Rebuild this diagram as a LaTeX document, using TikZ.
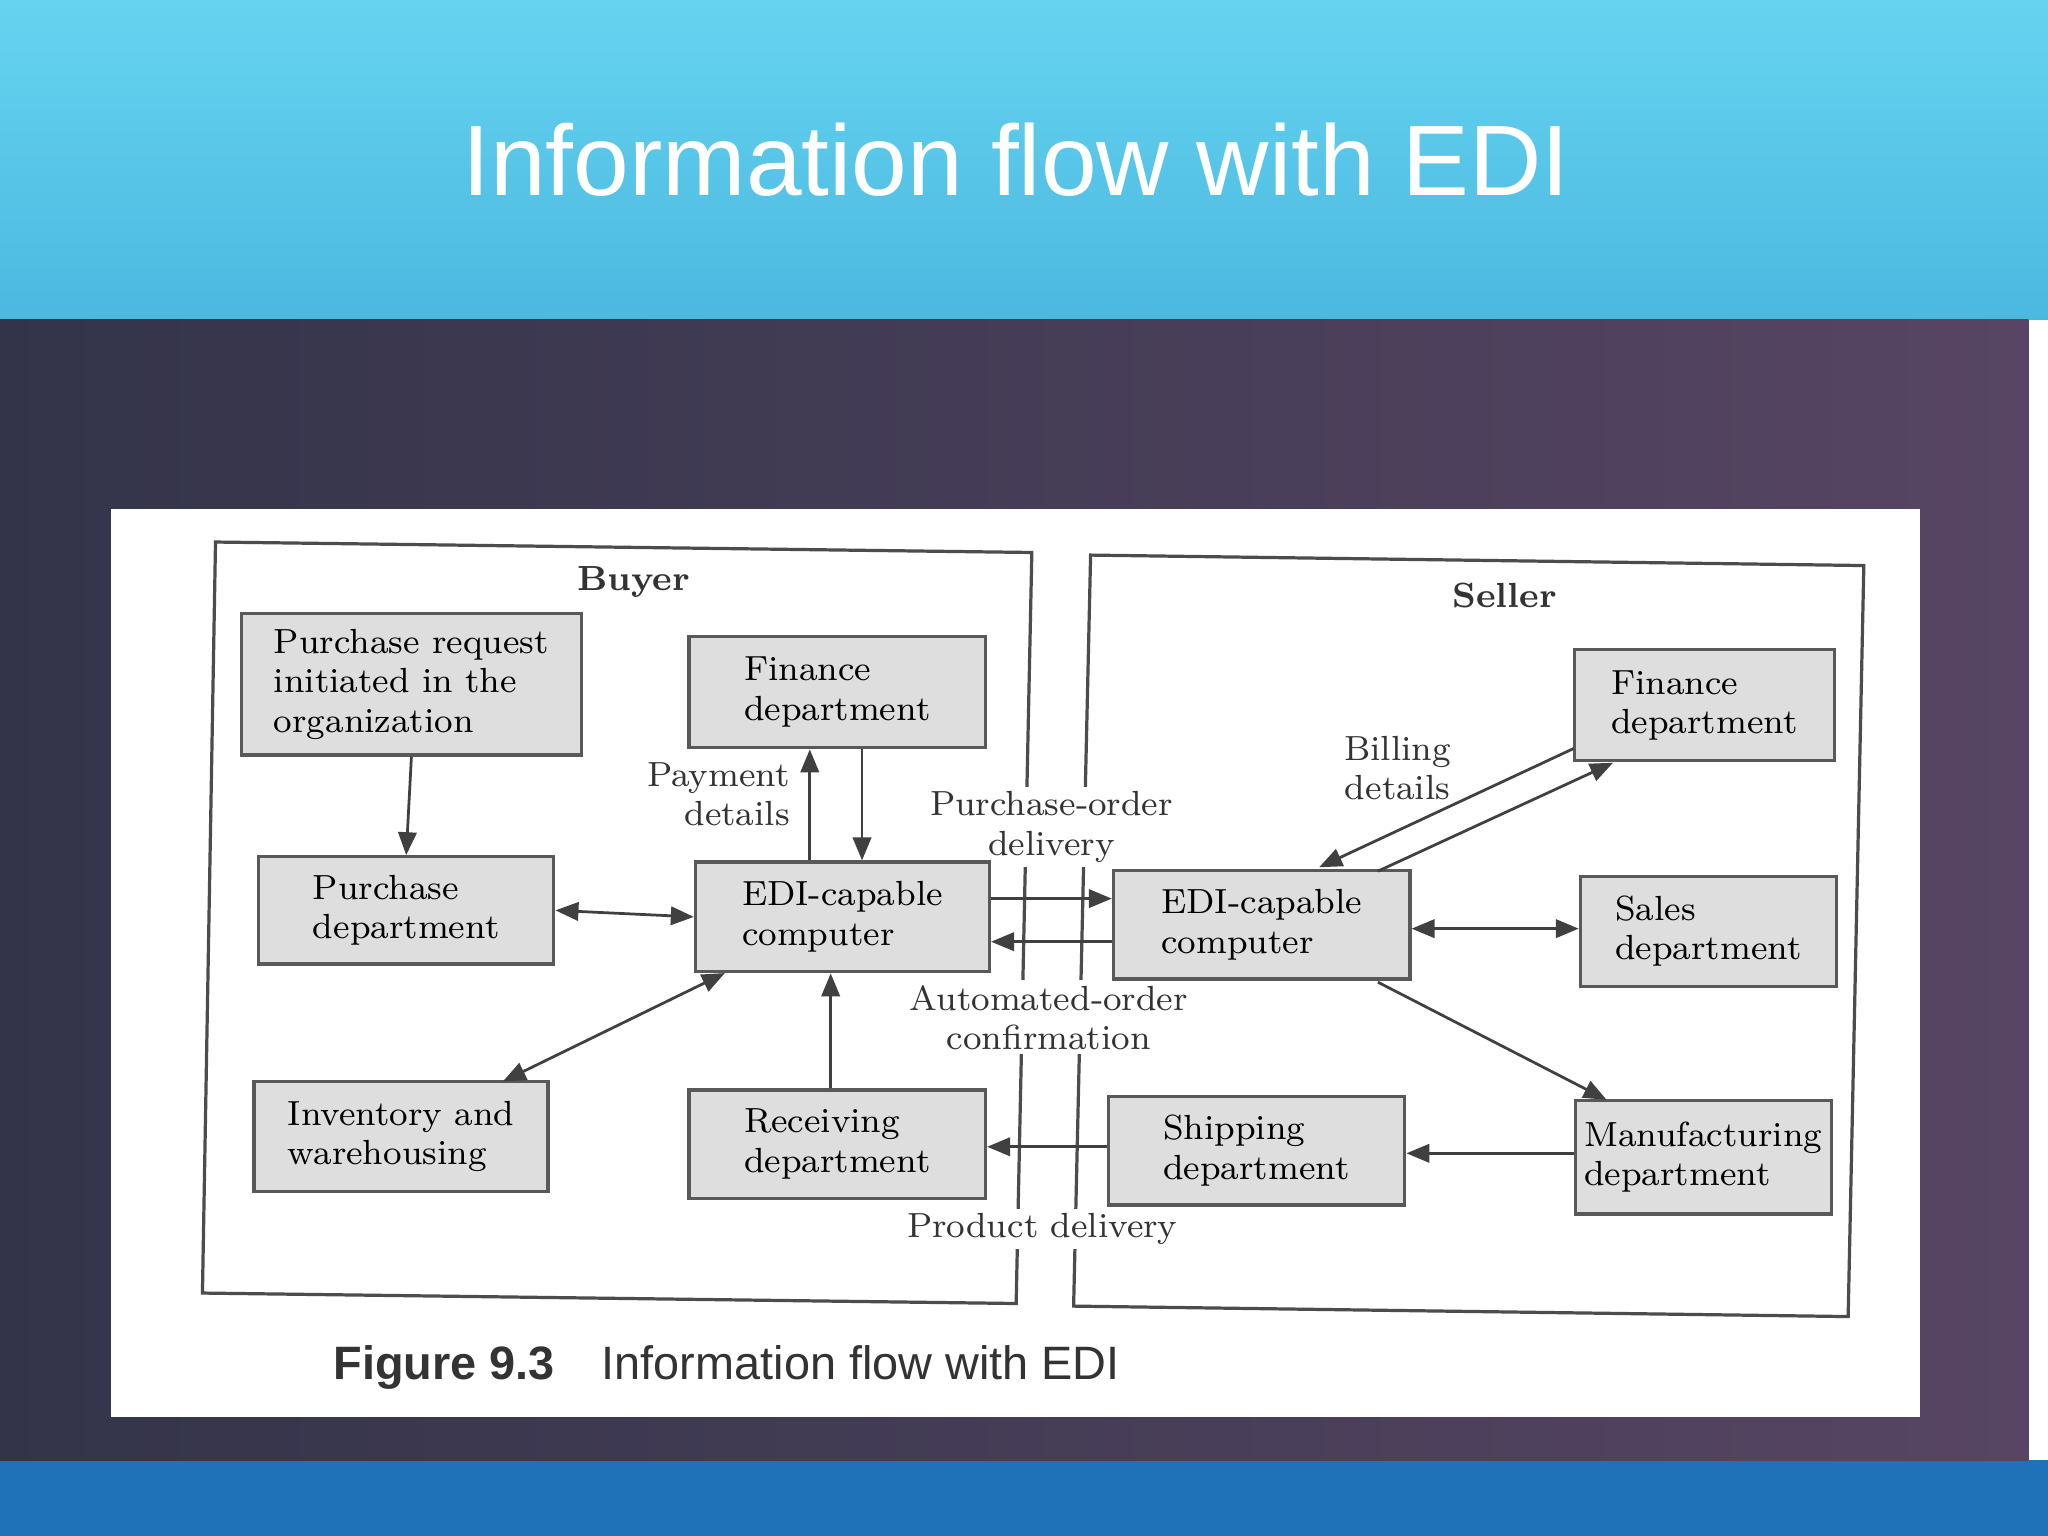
\documentclass[tikz,border=0pt]{standalone}
\usepackage{fontspec}
\newfontfamily\sansf{Liberation Sans}
\usetikzlibrary{arrows.meta}
\definecolor{topA}{HTML}{66D4F0}
\definecolor{topB}{HTML}{4BB8E0}
\definecolor{botband}{HTML}{1F72B8}
\definecolor{darkL}{HTML}{33344A}
\definecolor{darkR}{HTML}{574563}
\begin{document}
\begin{tikzpicture}[x=0.01cm,y=-0.01cm,
 box/.style={draw=black!65,line width=0.7pt,fill=black!13,align=left,inner sep=0pt,font=\fontsize{7.6}{8.6}\selectfont},
 lbl/.style={font=\fontsize{7.6}{8.6}\selectfont,align=center,text=black!80},
 ar/.style={-{Triangle[length=5pt,width=4pt]},black!75,line width=0.6pt},
 ar2/.style={{Triangle[length=5pt,width=4pt]}-{Triangle[length=5pt,width=4pt]},black!75,line width=0.6pt}]
\useasboundingbox (0,0) rectangle (1568,1176);
\shade[top color=topA,bottom color=topB] (0,0) rectangle (1568,245);
\fill[botband] (0,1118) rectangle (1568,1176);
\shade[left color=darkL,right color=darkR] (0,245) rectangle (1553,1118);
\node[text=white,font=\sansf\fontsize{21.8}{26}\selectfont] (title) at (778,122) {Information flow with EDI};
\fill[white] (85,390) rectangle (1470,1085);
\draw[black!70,line width=0.7pt] (165,415) -- (790,423) -- (778,998) -- (155,990) -- cycle;
\draw[black!70,line width=0.7pt] (835,425) -- (1427,433) -- (1415,1008) -- (822,1000) -- cycle;
\node[lbl,fill=white,inner sep=1pt] (pod) at (805,633) {Purchase-order\\delivery};
\node[lbl,fill=white,inner sep=1pt] (aoc) at (803,779) {Automated-order\\confirmation};
\node[lbl,fill=white,inner sep=1pt] (pd) at (798,941) {Product delivery};
\node[font=\bfseries\fontsize{7.6}{9}\selectfont,text=black!80] (buyer) at (485,446) {Buyer};
\node[font=\bfseries\fontsize{7.6}{9}\selectfont,text=black!80] (seller) at (1152,456) {Seller};
\node[box,minimum width=2.60cm,minimum height=1.08cm] (pr) at (315,524) {Purchase request\\initiated in the\\organization};
\node[box,minimum width=2.27cm,minimum height=0.85cm] (finb) at (641,530) {Finance\\department};
\node[box,minimum width=2.26cm,minimum height=0.82cm] (purd) at (311,697) {Purchase\\department};
\node[box,minimum width=2.25cm,minimum height=0.84cm] (edib) at (645,702) {EDI-capable\\computer};
\node[box,minimum width=2.25cm,minimum height=0.84cm] (inv) at (307,870) {Inventory and\\warehousing};
\node[box,minimum width=2.27cm,minimum height=0.83cm] (rec) at (641,876) {Receiving\\department};
\node[box,minimum width=2.27cm,minimum height=0.83cm] (edis) at (966,708) {EDI-capable\\computer};
\node[box,minimum width=1.99cm,minimum height=0.85cm] (fins) at (1305,540) {Finance\\department};
\node[box,minimum width=1.96cm,minimum height=0.84cm] (sales) at (1308,713) {Sales\\department};
\node[box,minimum width=2.27cm,minimum height=0.83cm] (ship) at (962,881) {Shipping\\department};
\node[box,minimum width=1.96cm,minimum height=0.87cm] (manu) at (1304,886) {Manufacturing\\department};
\node[lbl,align=right] (pay) at (550,608) {Payment\\details};
\node[lbl] (bill) at (1070,588) {Billing\\details};
\node[anchor=west,font=\sansf\fontsize{10.2}{12}\selectfont,text=black!80] (cap) at (243,1047) {\textbf{Figure 9.3}\quad Information flow with EDI};
\draw[ar] (pr.south) -- (purd.north);
\draw[ar2] (purd.east) -- (edib.west);
\draw[ar] (edib.north -| 620,0) -- (finb.south -| 620,0);
\draw[ar] (finb.south -| 660,0) -- (edib.north -| 660,0);
\coordinate (i1) at (385,828);
\coordinate (b1) at (555,745);
\draw[ar2] (i1) -- (b1);
\draw[ar] (rec.north -| 636,0) -- (edib.south -| 636,0);
\draw[ar] (edib.east |- 0,688) -- (edis.west |- 0,688);
\draw[ar] (edis.west |- 0,721) -- (edib.east |- 0,721);
\draw[ar2] (edis.east |- 0,711) -- (sales.west |- 0,711);
\coordinate (f1) at (1205,573);
\coordinate (e1) at (1010,664);
\coordinate (e2) at (1055,667);
\coordinate (f2) at (1235,584);
\draw[ar] (f1) -- (e1);
\draw[ar] (e2) -- (f2);
\coordinate (e3) at (1055,752);
\coordinate (m1) at (1230,842);
\draw[ar] (e3) -- (m1);
\draw[ar] (manu.west |- 0,883) -- (ship.east |- 0,883);
\draw[ar] (ship.west |- 0,878) -- (rec.east |- 0,878);
\end{tikzpicture}
\end{document}
